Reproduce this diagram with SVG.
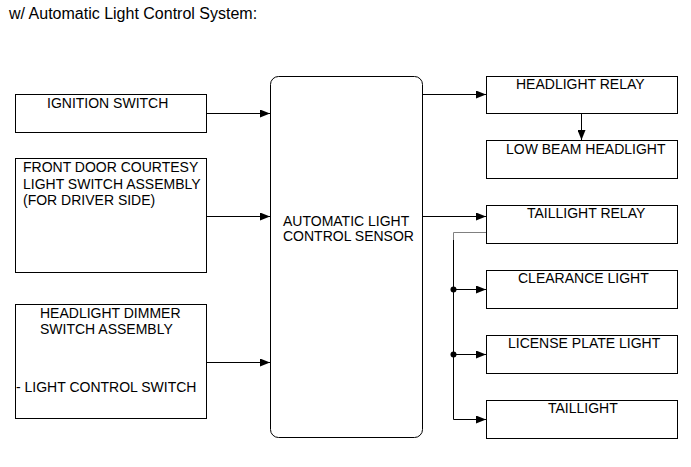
<svg xmlns="http://www.w3.org/2000/svg" width="691" height="467" viewBox="0 0 691 467">
<style>
text{font-family:"Liberation Sans",Arial,sans-serif;font-size:14px;fill:#000}
.title{font-size:16px}
.box{fill:#fff;stroke:#000;stroke-width:1}
.line{fill:none;stroke:#000;stroke-width:1}
.gray{fill:none;stroke:#808080;stroke-width:1}
</style>
<defs>
<marker id="arr" markerWidth="10" markerHeight="8" refX="10" refY="4" orient="auto" markerUnits="userSpaceOnUse">
<path d="M0,0 L10,4 L0,8 Z" fill="#000"/>
</marker>
</defs>
<rect width="691" height="467" fill="#fff"/>
<text class="title" x="9" y="19">w/ Automatic Light Control System:</text>

<g id="ignition">
<rect class="box" x="15.5" y="94.5" width="191" height="38"/>
<text x="47" y="108">IGNITION SWITCH</text>
</g>
<g id="door">
<rect class="box" x="15.5" y="158.5" width="191" height="114"/>
<text x="23" y="172">FRONT DOOR COURTESY</text>
<text x="23" y="189">LIGHT SWITCH ASSEMBLY</text>
<text x="23" y="205">(FOR DRIVER SIDE)</text>
</g>
<g id="dimmer">
<rect class="box" x="15.5" y="304.5" width="191" height="114"/>
<text x="40" y="318">HEADLIGHT DIMMER</text>
<text x="40" y="334">SWITCH ASSEMBLY</text>
<text x="16" y="392">- LIGHT CONTROL SWITCH</text>
</g>
<g id="sensor">
<rect class="box" x="270.5" y="76.5" width="152" height="361" rx="8" ry="8"/>
<text x="283" y="226">AUTOMATIC LIGHT</text>
<text x="283" y="241">CONTROL SENSOR</text>
</g>
<g id="headlight-relay">
<rect class="box" x="486.5" y="76.5" width="191" height="37"/>
<text x="516" y="89">HEADLIGHT RELAY</text>
</g>
<g id="low-beam">
<rect class="box" x="486.5" y="140.5" width="191" height="38"/>
<text x="506" y="154">LOW BEAM HEADLIGHT</text>
</g>
<g id="taillight-relay">
<rect class="box" x="486.5" y="205.5" width="191" height="38"/>
<text x="527" y="218">TAILLIGHT RELAY</text>
</g>
<g id="clearance">
<rect class="box" x="486.5" y="270.5" width="191" height="38"/>
<text x="518" y="283">CLEARANCE LIGHT</text>
</g>
<g id="license">
<rect class="box" x="486.5" y="335.5" width="191" height="38"/>
<text x="508" y="348">LICENSE PLATE LIGHT</text>
</g>
<g id="taillight">
<rect class="box" x="486.5" y="400.5" width="191" height="38"/>
<text x="548" y="413">TAILLIGHT</text>
</g>

<g id="connectors">
<line class="line" x1="206" y1="113.5" x2="270" y2="113.5" marker-end="url(#arr)"/>
<line class="line" x1="206" y1="216.5" x2="270" y2="216.5" marker-end="url(#arr)"/>
<line class="line" x1="206" y1="362.5" x2="270" y2="362.5" marker-end="url(#arr)"/>
<line class="line" x1="422" y1="94.5" x2="486" y2="94.5" marker-end="url(#arr)"/>
<line class="line" x1="581.5" y1="113" x2="581.5" y2="140" marker-end="url(#arr)"/>
<line class="line" x1="422" y1="216.5" x2="486" y2="216.5" marker-end="url(#arr)"/>
<polyline class="gray" points="486,232.5 453.5,232.5 453.5,240"/>
<polyline class="line" points="453.5,240 453.5,419.5 486,419.5" marker-end="url(#arr)"/>
<line class="line" x1="453.5" y1="289.5" x2="486" y2="289.5" marker-end="url(#arr)"/>
<line class="line" x1="453.5" y1="354.5" x2="486" y2="354.5" marker-end="url(#arr)"/>
<circle cx="453.5" cy="289.5" r="3" fill="#000"/>
<circle cx="453.5" cy="354.5" r="3" fill="#000"/>
</g>
</svg>
